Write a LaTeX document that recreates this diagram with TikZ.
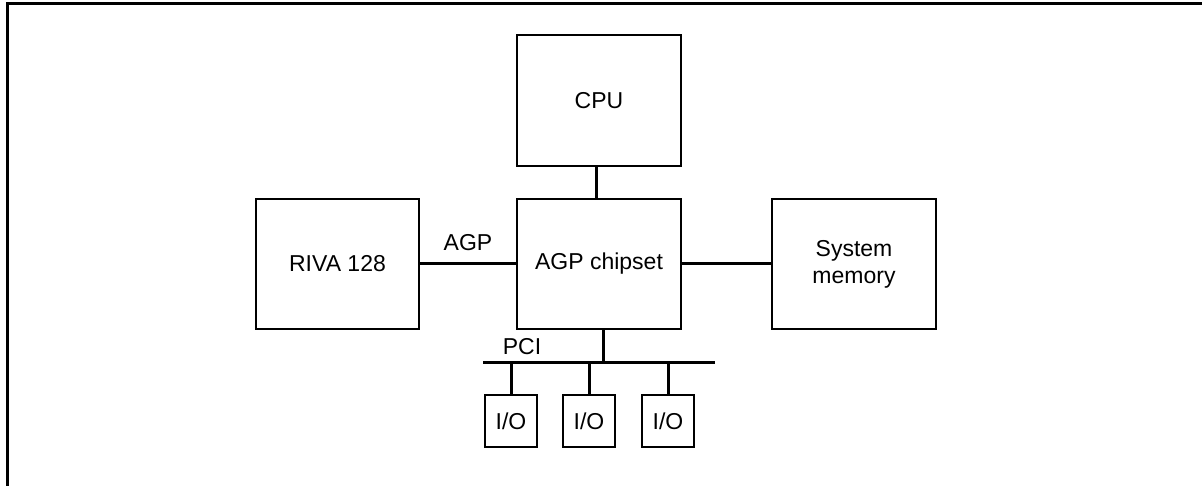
\documentclass[tikz,border=0pt]{standalone}
\usepackage{fontspec}
\setmainfont{Liberation Sans}
\begin{document}
\begin{tikzpicture}[x=1pt,y=-1pt,
  blk/.style={draw,line width=2pt,inner sep=0pt,align=center,font=\fontsize{23}{27}\selectfont},
  iobox/.style={blk,minimum width=52pt,minimum height=52pt},
  bigbox/.style={blk,minimum width=164pt,minimum height=130pt},
  wire/.style={line width=3pt},
  lbl/.style={inner sep=0pt,font=\fontsize{23}{27}\selectfont}]
\useasboundingbox (0,0) rectangle (1202,486);
% frame
\draw[line width=3pt] (7.5,486) -- (7.5,4) -- (1202,4);
% blocks
\node[bigbox,minimum height=131pt] (cpu) at (599,100.5) {CPU};
\node[bigbox] (chip) at (599,264) {AGP chipset};
\node[bigbox,minimum width=163pt] (riva) at (337.5,264) {RIVA 128};
\node[bigbox] (mem) at (854,264) {System\\memory};
\node[iobox] (io1) at (511,421) {I/O};
\node[iobox] (io2) at (589,421) {I/O};
\node[iobox] (io3) at (668,421) {I/O};
% connectors
\draw[wire] ([xshift=-3pt]cpu.south) -- ([xshift=-3pt]chip.north);
\draw[wire] (riva.east) -- (chip.west);
\draw[wire] (chip.east) -- (mem.west);
\coordinate (pciL) at (483,362);
\coordinate (pciR) at (715,362);
\draw[wire] (pciL) -- (pciR);
\draw[wire] ([xshift=4pt]chip.south) -- ([xshift=4pt]chip.south |- pciL);
\draw[wire] (io1.north) -- (io1.north |- pciL);
\draw[wire] (io2.north) -- (io2.north |- pciL);
\draw[wire] (io3.north) -- (io3.north |- pciL);
% labels
\node[lbl] (agp) at (468,243) {AGP};
\node[lbl] (pci) at (522,347) {PCI};
\end{tikzpicture}
\end{document}
